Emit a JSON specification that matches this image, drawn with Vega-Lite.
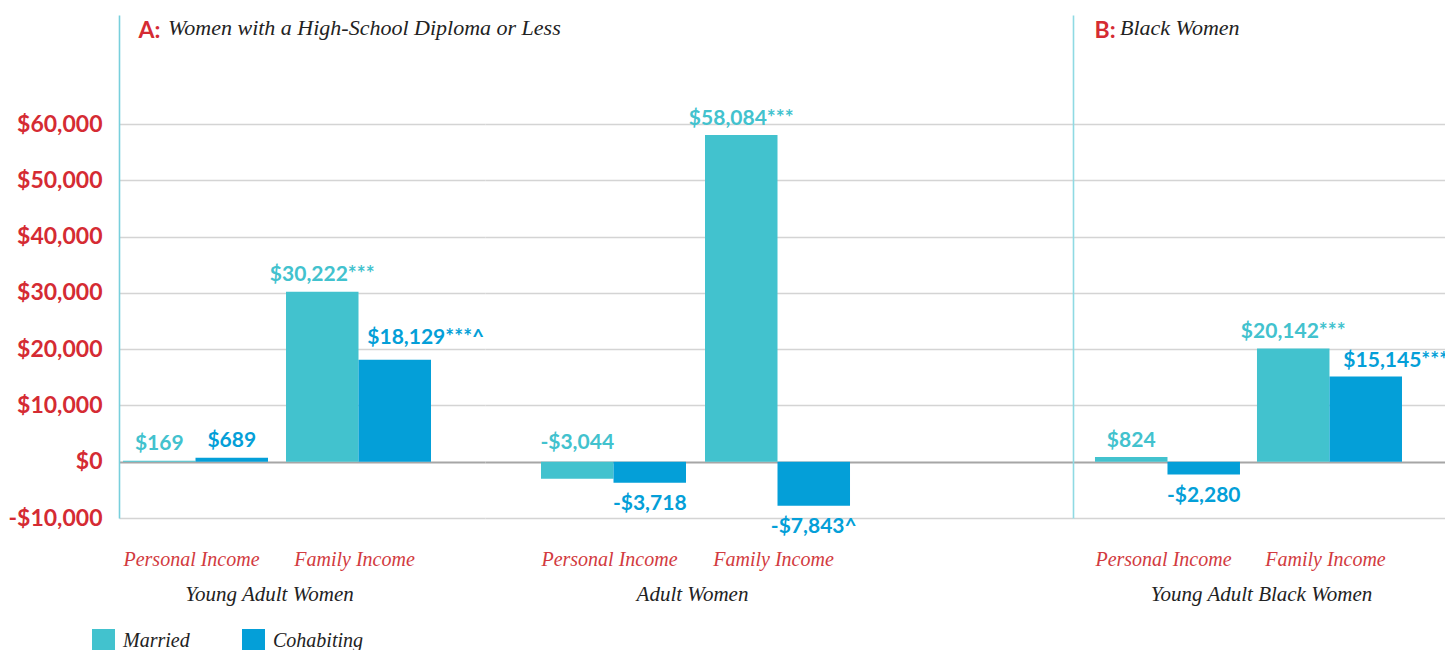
{
  "$schema": "https://vega.github.io/schema/vega-lite/v6.json",
  "autosize": {"type": "pad"},
  "padding": {"left": 7, "top": 15, "right": 0, "bottom": 0},
  "background": "white",
  "spacing": 0,
  "bounds": "flush",
  "config": {
    "view": {"stroke": null},
    "axisX": {"labelFont": "Liberation Serif", "labelFontStyle": "italic", "labelFontSize": 20, "labelColor": "#d23a40", "labelBaseline": "alphabetic", "labelPadding": 47, "labelOffset": -4, "labelAngle": 0, "ticks": false, "tickSize": 0, "domain": false, "grid": false, "titleFont": "Liberation Serif", "titleFontStyle": "italic", "titleFontWeight": "normal", "titleFontSize": 21, "titleColor": "#222222", "titleBaseline": "alphabetic", "titleY": 82},
    "axisY": {"grid": true, "gridColor": {"condition": {"test": "datum.value === 0", "value": "#a6a6a6"}, "value": "#d4d4d4"}, "gridWidth": {"condition": {"test": "datum.value === 0", "value": 1.8}, "value": 1.3}, "ticks": false, "tickSize": 0, "domainColor": "#78cfdc", "domainWidth": 1.6}
  },
  "datasets": {
    "d": [
      {"group": "Young Adult Women", "income": "Personal Income", "status": "Married", "value": 169, "label": "$169"},
      {"group": "Young Adult Women", "income": "Personal Income", "status": "Cohabiting", "value": 689, "label": "$689"},
      {"group": "Young Adult Women", "income": "Family Income", "status": "Married", "value": 30222, "label": "$30,222***"},
      {"group": "Young Adult Women", "income": "Family Income", "status": "Cohabiting", "value": 18129, "label": "$18,129***^"},
      {"group": "Adult Women", "income": "Personal Income", "status": "Married", "value": -3044, "label": "-$3,044"},
      {"group": "Adult Women", "income": "Personal Income", "status": "Cohabiting", "value": -3718, "label": "-$3,718"},
      {"group": "Adult Women", "income": "Family Income", "status": "Married", "value": 58084, "label": "$58,084***"},
      {"group": "Adult Women", "income": "Family Income", "status": "Cohabiting", "value": -7843, "label": "-$7,843^"},
      {"group": "Young Adult Black Women", "income": "Personal Income", "status": "Married", "value": 824, "label": "$824"},
      {"group": "Young Adult Black Women", "income": "Personal Income", "status": "Cohabiting", "value": -2280, "label": "-$2,280"},
      {"group": "Young Adult Black Women", "income": "Family Income", "status": "Married", "value": 20142, "label": "$20,142***"},
      {"group": "Young Adult Black Women", "income": "Family Income", "status": "Cohabiting", "value": 15145, "label": "$15,145***"}
    ]
  },
  "hconcat": [
    {
      "width": 366, "height": 503,
      "data": {"name": "d"},
      "transform": [{"filter": "datum.group === 'Young Adult Women'"}],
      "title": {"text": "Women with a High-School Diploma or Less", "anchor": "start", "frame": "group", "orient": "top", "dx": 49, "offset": -42, "baseline": "alphabetic", "font": "Liberation Serif", "fontStyle": "italic", "fontWeight": "normal", "fontSize": 22, "color": "#222222"},
      "encoding": {
        "x": {"field": "income", "type": "nominal", "sort": ["Personal Income", "Family Income"], "scale": {"paddingInner": 0.1104, "paddingOuter": 0.1779, "align": 0.069}, "axis": {"title": "Young Adult Women", "titleX": 150}},
        "xOffset": {"field": "status", "type": "nominal", "sort": ["Married", "Cohabiting"], "scale": {"paddingInner": 0, "paddingOuter": 0}},
        "y": {"field": "value", "type": "quantitative", "scale": {"domain": [-10000, 79400], "nice": false, "zero": false}, "axis": {"values": [-10000, 0, 10000, 20000, 30000, 40000, 50000, 60000], "labelExpr": "datum.value < 0 ? '-$' + format(-datum.value, ',') : '$' + format(datum.value, ',')", "labelFont": "Lato", "labelFontWeight": "bold", "labelFontSize": 23, "labelColor": "#d52b33", "labelPadding": 17, "labelBaseline": "middle", "domain": true, "title": "A:", "titleAngle": 0, "titleX": 19, "titleY": 22, "titleAlign": "left", "titleBaseline": "alphabetic", "titleFont": "Lato", "titleFontWeight": "bold", "titleFontSize": 23, "titleColor": "#d52b33"}},
        "color": {"field": "status", "type": "nominal", "scale": {"domain": ["Married", "Cohabiting"], "range": ["#42c2ce", "#049fd8"]}, "legend": {"title": null, "orient": "none", "legendX": -27, "legendY": 614, "direction": "horizontal", "symbolType": "square", "symbolSize": 529, "symbolStrokeWidth": 0, "symbolOpacity": 1, "labelFont": "Liberation Serif", "labelFontStyle": "italic", "labelFontSize": 20, "labelColor": "#222222", "labelOffset": 8, "columnPadding": 52, "padding": 0}}
      },
      "layer": [
        {"mark": {"type": "bar"}},
        {"transform": [{"filter": "datum.value >= 0 && !(datum.status === 'Cohabiting' && datum.income === 'Family Income')"}], "mark": {"type": "text", "font": "Lato", "fontWeight": "bold", "fontSize": 21, "baseline": "alphabetic", "dy": -11}, "encoding": {"text": {"field": "label"}}},
        {"transform": [{"filter": "datum.value >= 0 && datum.status === 'Cohabiting' && datum.income === 'Family Income'"}], "mark": {"type": "text", "font": "Lato", "fontWeight": "bold", "fontSize": 21, "baseline": "alphabetic", "dy": -16, "dx": 31}, "encoding": {"text": {"field": "label"}}},
        {"transform": [{"filter": "datum.value < 0 && datum.status === 'Cohabiting'"}], "mark": {"type": "text", "font": "Lato", "fontWeight": "bold", "fontSize": 21, "baseline": "top", "dy": 10}, "encoding": {"text": {"field": "label"}}},
        {"transform": [{"filter": "datum.value < 0 && datum.status === 'Married'"}], "mark": {"type": "text", "font": "Lato", "fontWeight": "bold", "fontSize": 21, "baseline": "alphabetic", "dy": -13}, "encoding": {"text": {"field": "label"}, "y": {"datum": 0}}}
      ]
    },
    {
      "width": 588, "height": 503,
      "data": {"name": "d"},
      "transform": [{"filter": "datum.group === 'Adult Women'"}],
      "encoding": {
        "x": {"field": "income", "type": "nominal", "sort": ["Personal Income", "Family Income"], "scale": {"paddingInner": 0.116, "paddingOuter": 0.8506, "align": 0.2007}, "axis": {"title": "Adult Women", "titleX": 207}},
        "xOffset": {"field": "status", "type": "nominal", "sort": ["Married", "Cohabiting"], "scale": {"paddingInner": 0, "paddingOuter": 0}},
        "y": {"field": "value", "type": "quantitative", "scale": {"domain": [-10000, 79400], "nice": false, "zero": false}, "axis": {"values": [-10000, 0, 10000, 20000, 30000, 40000, 50000, 60000], "labels": false, "domain": false, "title": null}},
        "color": {"field": "status", "type": "nominal", "scale": {"domain": ["Married", "Cohabiting"], "range": ["#42c2ce", "#049fd8"]}, "legend": null}
      },
      "layer": [
        {"mark": {"type": "bar"}},
        {"transform": [{"filter": "datum.value >= 0 && !(datum.status === 'Cohabiting' && datum.income === 'Family Income')"}], "mark": {"type": "text", "font": "Lato", "fontWeight": "bold", "fontSize": 21, "baseline": "alphabetic", "dy": -10}, "encoding": {"text": {"field": "label"}}},
        {"transform": [{"filter": "datum.value >= 0 && datum.status === 'Cohabiting' && datum.income === 'Family Income'"}], "mark": {"type": "text", "font": "Lato", "fontWeight": "bold", "fontSize": 21, "baseline": "alphabetic", "dy": -12, "dx": 31}, "encoding": {"text": {"field": "label"}}},
        {"transform": [{"filter": "datum.value < 0 && datum.status === 'Cohabiting'"}], "mark": {"type": "text", "font": "Lato", "fontWeight": "bold", "fontSize": 21, "baseline": "top", "dy": 10}, "encoding": {"text": {"field": "label"}}},
        {"transform": [{"filter": "datum.value < 0 && datum.status === 'Married'"}], "mark": {"type": "text", "font": "Lato", "fontWeight": "bold", "fontSize": 21, "baseline": "alphabetic", "dy": -13}, "encoding": {"text": {"field": "label"}, "y": {"datum": 0}}}
      ]
    },
    {
      "width": 373, "height": 503,
      "data": {"name": "d"},
      "transform": [{"filter": "datum.group === 'Young Adult Black Women'"}],
      "title": {"text": "Black Women", "anchor": "start", "frame": "group", "orient": "top", "dx": 47, "offset": -42, "baseline": "alphabetic", "font": "Liberation Serif", "fontStyle": "italic", "fontWeight": "normal", "fontSize": 22, "color": "#222222"},
      "encoding": {
        "x": {"field": "income", "type": "nominal", "sort": ["Personal Income", "Family Income"], "scale": {"paddingInner": 0.105, "paddingOuter": 0.2037, "align": 0.333}, "axis": {"title": "Young Adult Black Women", "titleX": 188}},
        "xOffset": {"field": "status", "type": "nominal", "sort": ["Married", "Cohabiting"], "scale": {"paddingInner": 0, "paddingOuter": 0}},
        "y": {"field": "value", "type": "quantitative", "scale": {"domain": [-10000, 79400], "nice": false, "zero": false}, "axis": {"values": [-10000, 0, 10000, 20000, 30000, 40000, 50000, 60000], "labels": false, "domain": true, "domainColor": "#8fdae3", "title": "B:", "titleAngle": 0, "titleX": 21, "titleY": 22, "titleAlign": "left", "titleBaseline": "alphabetic", "titleFont": "Lato", "titleFontWeight": "bold", "titleFontSize": 23, "titleColor": "#d52b33"}},
        "color": {"field": "status", "type": "nominal", "scale": {"domain": ["Married", "Cohabiting"], "range": ["#42c2ce", "#049fd8"]}, "legend": null}
      },
      "layer": [
        {"mark": {"type": "bar"}},
        {"transform": [{"filter": "datum.value >= 0 && !(datum.status === 'Cohabiting' && datum.income === 'Family Income')"}], "mark": {"type": "text", "font": "Lato", "fontWeight": "bold", "fontSize": 21, "baseline": "alphabetic", "dy": -10}, "encoding": {"text": {"field": "label"}}},
        {"transform": [{"filter": "datum.value >= 0 && datum.status === 'Cohabiting' && datum.income === 'Family Income'"}], "mark": {"type": "text", "font": "Lato", "fontWeight": "bold", "fontSize": 21, "baseline": "alphabetic", "dy": -10, "dx": 30}, "encoding": {"text": {"field": "label"}}},
        {"transform": [{"filter": "datum.value < 0 && datum.status === 'Cohabiting'"}], "mark": {"type": "text", "font": "Lato", "fontWeight": "bold", "fontSize": 21, "baseline": "top", "dy": 10}, "encoding": {"text": {"field": "label"}}},
        {"transform": [{"filter": "datum.value < 0 && datum.status === 'Married'"}], "mark": {"type": "text", "font": "Lato", "fontWeight": "bold", "fontSize": 21, "baseline": "alphabetic", "dy": -13}, "encoding": {"text": {"field": "label"}, "y": {"datum": 0}}}
      ]
    }
  ],
  "resolve": {"scale": {"color": "shared"}, "legend": {"color": "independent"}}
}
